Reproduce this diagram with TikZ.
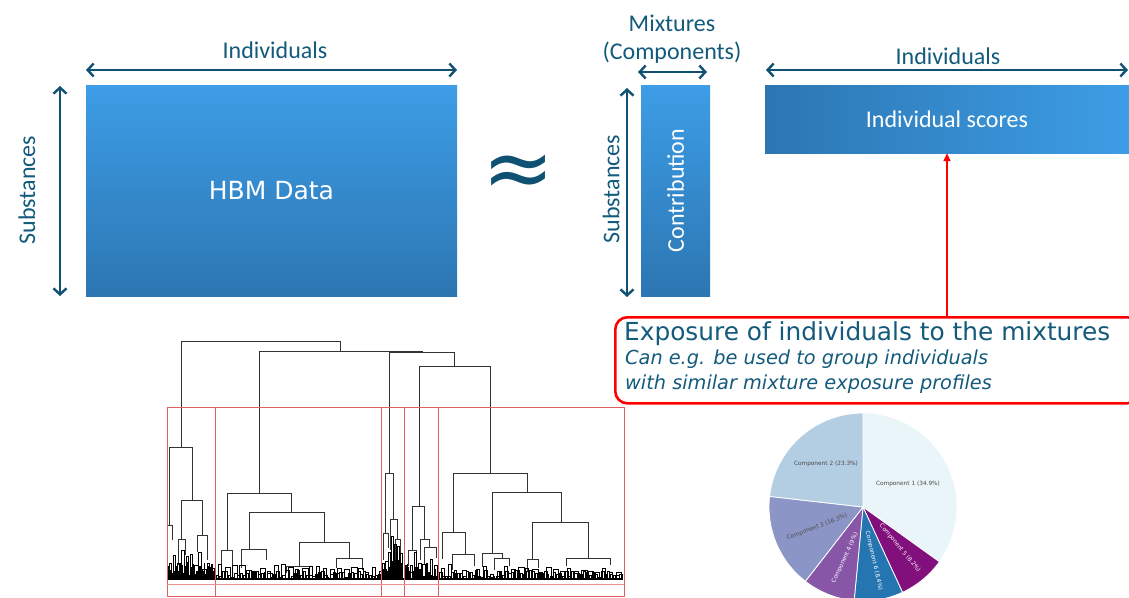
\documentclass[tikz,border=0pt]{standalone}
\usepackage{fontspec}
\setmainfont{Carlito}
\newfontfamily\verd{DejaVu Sans}
\usetikzlibrary{arrows.meta}
\definecolor{tealtxt}{HTML}{135A7C}
\definecolor{tealarr}{HTML}{0F5172}
\definecolor{blueT}{HTML}{3D9DE6}
\definecolor{blueB}{HTML}{2C76B2}
\definecolor{pieA}{HTML}{EAF5F9}
\definecolor{pieB}{HTML}{B3CDE3}
\definecolor{pieC}{HTML}{8C96C6}
\definecolor{pieD}{HTML}{8856A7}
\definecolor{pieE}{HTML}{810F7C}
\definecolor{pieF}{HTML}{2575B0}
\definecolor{dendcol}{HTML}{333333}
\definecolor{boxred}{HTML}{E06060}
\newcommand\dU[5]{\draw[dendro] (#1,#4) -- (#1,#3) -- (#2,#3) -- (#2,#5);}
\newcommand\leafzone[5]{%
  \foreach \i in {0,...,#2}{%
    \pgfmathsetmacro\xa{#1+\i*#3}%
    \pgfmathsetmacro\hh{#5+rnd*(#4-#5)}%
    \pgfmathsetmacro\xb{\xa+#3*(0.4+0.5*rnd)}%
    \draw[leafline] (\xa,579) -- (\xa,579-\hh) -- (\xb,579-\hh) -- (\xb,579);
  }}
\begin{document}
\begin{tikzpicture}[x=1pt,y=-1pt,
  dimarrow/.style={draw=tealarr, line width=2.4pt,
    {Straight Barb[length=6pt,width=13pt,line width=2.4pt]}-{Straight Barb[length=6pt,width=13pt,line width=2.4pt]}},
  lbl/.style={text=tealtxt, font=\fontsize{24}{28}\selectfont, inner sep=0pt},
  vbox/.style={top color=blueT, bottom color=blueB, inner sep=0pt, text=white},
  hbox/.style={left color=blueB, right color=blueT, inner sep=0pt, text=white},
  dendro/.style={draw=dendcol, line width=0.65pt},
  leafline/.style={draw=black, line width=0.5pt},
  redbox/.style={draw=boxred, line width=0.9pt},
  pielbl/.style={font=\verd\fontsize{5.8}{7}\selectfont, inner sep=0pt},
  slice/.style={draw=white, line width=0.8pt}]
\clip (0,0) rectangle (1129,597);
\fill[white] (0,0) rectangle (1129,597);

% ---------- HBM data matrix
\node[vbox, minimum width=371pt, minimum height=211pt,
      font=\verd\fontsize{25}{30}\selectfont] (hbm) at (271.5,190.5) {HBM Data};
\coordinate (iL) at (86,70);
\coordinate (iR) at (457,70);
\draw[dimarrow] (iL) -- (iR);
\node[lbl] (indA) at (275,50) {Individuals};
\coordinate (sT) at (60,86);
\coordinate (sB) at (60,296);
\draw[dimarrow] (sT) -- (sB);
\node[lbl, rotate=90] (subA) at (27,190) {Substances};

% ---------- approx sign
\node[text=tealarr, font=\verd\fontsize{86}{90}\selectfont, inner sep=0pt] (approx) at (519,176) {≈};

% ---------- contribution matrix
\node[vbox, minimum width=69pt, minimum height=211pt] (contr) at (675.5,190.5) {};
\node[text=white, rotate=90, font=\fontsize{24}{28}\selectfont, inner sep=0pt] (contrt) at (contr.center) {Contribution};
\coordinate (s2T) at (627,88);
\coordinate (s2B) at (627,297);
\draw[dimarrow] (s2T) -- (s2B);
\node[lbl, rotate=90] (subB) at (611,189) {Substances};
\coordinate (mL) at (638,72);
\coordinate (mR) at (707,72);
\draw[dimarrow] (mL) -- (mR);
\node[lbl, align=center] (mix) at (672,39) {Mixtures\\(Components)};

% ---------- individual scores
\node[hbox, minimum width=364pt, minimum height=68pt,
      font=\fontsize{24}{28}\selectfont] (scores) at (947,119) {Individual scores};
\coordinate (i2L) at (766,70);
\coordinate (i2R) at (1128,70);
\draw[dimarrow] (i2L) -- (i2R);
\node[lbl] (indB) at (948,56) {Individuals};

% ---------- exposure box
\node[draw=red, line width=2.6pt, rounded corners=12pt, minimum width=524pt,
      minimum height=86pt, anchor=north west, inner sep=0pt] (expo) at (614,316) {};
\draw[red, line width=1.8pt, -{Triangle[length=8pt,width=7pt]}] (scores.south |- expo.north) -- (scores.south);
\node[text=tealtxt, anchor=base west, inner sep=0pt, font=\verd\fontsize{24.8}{28}\selectfont] (exp1) at (624,340) {Exposure of individuals to the mixtures};
\node[text=tealtxt, anchor=base west, inner sep=0pt, font=\verd\itshape\fontsize{19.3}{22}\selectfont] (exp2) at (625,364) {Can e.g. be used to group individuals};
\node[text=tealtxt, anchor=base west, inner sep=0pt, font=\verd\itshape\fontsize{19.3}{22}\selectfont] (exp3) at (625,389) {with similar mixture exposure profiles};

% ---------- dendrogram
\pgfmathsetseed{11}
\dU{181}{340}{341}{447}{351}
\dU{259}{422}{351}{493}{352.5}
\dU{389}{454}{352.5}{473}{366}
\dU{419}{490}{366}{506}{473}
\dU{453}{527}{473}{532}{492}
\dU{492}{561}{492}{553}{522}
\dU{532}{588}{522}{559}{558}
\dU{527}{538}{559}{572}{568}
\dU{566}{610}{558}{566}{565}
\dU{442}{465}{532}{559}{554}
\dU{452}{474}{554}{570}{566}
\dU{482}{502}{553}{567}{558}
\dU{494}{509}{558}{570}{566}
% cluster 2
\dU{227}{291}{493}{550}{512}
\dU{221}{232}{550}{572}{566}
\dU{249}{324}{512}{549}{542}
\dU{241}{266}{549}{568}{560}
\dU{299}{349}{542}{566}{558}
\dU{286}{312}{566}{573}{570}
\dU{336}{362}{558}{568}{570}
% cluster 1
\dU{169}{192}{447}{525}{500}
\dU{167}{172}{525}{560}{540}
\dU{181}{202}{500}{539}{535}
\dU{178}{185}{539}{565}{555}
\dU{197}{207}{535}{552}{560}
% cluster 3
\dU{385}{393}{473}{533}{519}
\dU{390}{397}{519}{550}{539}
\dU{395}{400}{539}{560}{555}
\dU{383}{388}{533}{560}{548}
% cluster 4
\dU{412}{424}{506}{550}{539}
\dU{408}{416}{550}{566}{560}
\dU{420}{429}{539}{560}{547}
\dU{424}{436}{547}{565}{558}
% leaves
\leafzone{168}{30}{1.5}{18}{3}
\leafzone{169}{10}{4.2}{34}{10}
\leafzone{216.5}{54}{3}{9}{2}
\leafzone{218}{23}{7}{15}{5}
\leafzone{382}{13}{1.5}{20}{3}
\leafzone{382.5}{6}{3}{44}{14}
\leafzone{405}{17}{1.8}{16}{3}
\leafzone{406}{7}{4}{28}{10}
\leafzone{439.5}{60}{3}{9}{2}
\leafzone{441}{25}{7}{15}{5}
\draw[black, line width=2.2pt] (167,579) -- (623,579);
% red cluster boxes
\coordinate (rTL) at (167,407);
\coordinate (rBR) at (624,596);
\draw[redbox] (rTL) rectangle (rBR);
\foreach \xx in {215,381,404,438}{\draw[boxred, line width=1pt] (\xx,407) -- (\xx,596);}
\draw[boxred!70, line width=0.8pt] (167,584) -- (624,584);

% ---------- pie chart
\begin{scope}[shift={(863,507)}, yscale=-1]
  \filldraw[slice, fill=pieA] (0,0) -- (90:94) arc[start angle=90, end angle=-35.64, radius=94] -- cycle;
  \filldraw[slice, fill=pieE] (0,0) -- (-35.64:94) arc[start angle=-35.64, end angle=-65.16, radius=94] -- cycle;
  \filldraw[slice, fill=pieF] (0,0) -- (-65.16:94) arc[start angle=-65.16, end angle=-95.4, radius=94] -- cycle;
  \filldraw[slice, fill=pieD] (0,0) -- (-95.4:94) arc[start angle=-95.4, end angle=-127.8, radius=94] -- cycle;
  \filldraw[slice, fill=pieC] (0,0) -- (-127.8:94) arc[start angle=-127.8, end angle=-186.48, radius=94] -- cycle;
  \filldraw[slice, fill=pieB] (0,0) -- (-186.48:94) arc[start angle=-186.48, end angle=-270, radius=94] -- cycle;
\end{scope}
\node[pielbl, text=black!70] (p1) at (908,484) {Component 1 (34.9\%)};
\node[pielbl, text=black!70] (p2) at (826,464) {Component 2 (23.3\%)};
\node[pielbl, text=black!70, rotate=21] (p3) at (817,527) {Component 3 (16.3\%)};
\node[pielbl, text=white, rotate=65] (p4) at (845,558) {Component 4 (9\%)};
\node[pielbl, text=white, rotate=-77] (p6) at (874,561) {Component 6 (8.4\%)};
\node[pielbl, text=white, rotate=-50] (p5) at (900,548) {Component 5 (8.2\%)};
\end{tikzpicture}
\end{document}
